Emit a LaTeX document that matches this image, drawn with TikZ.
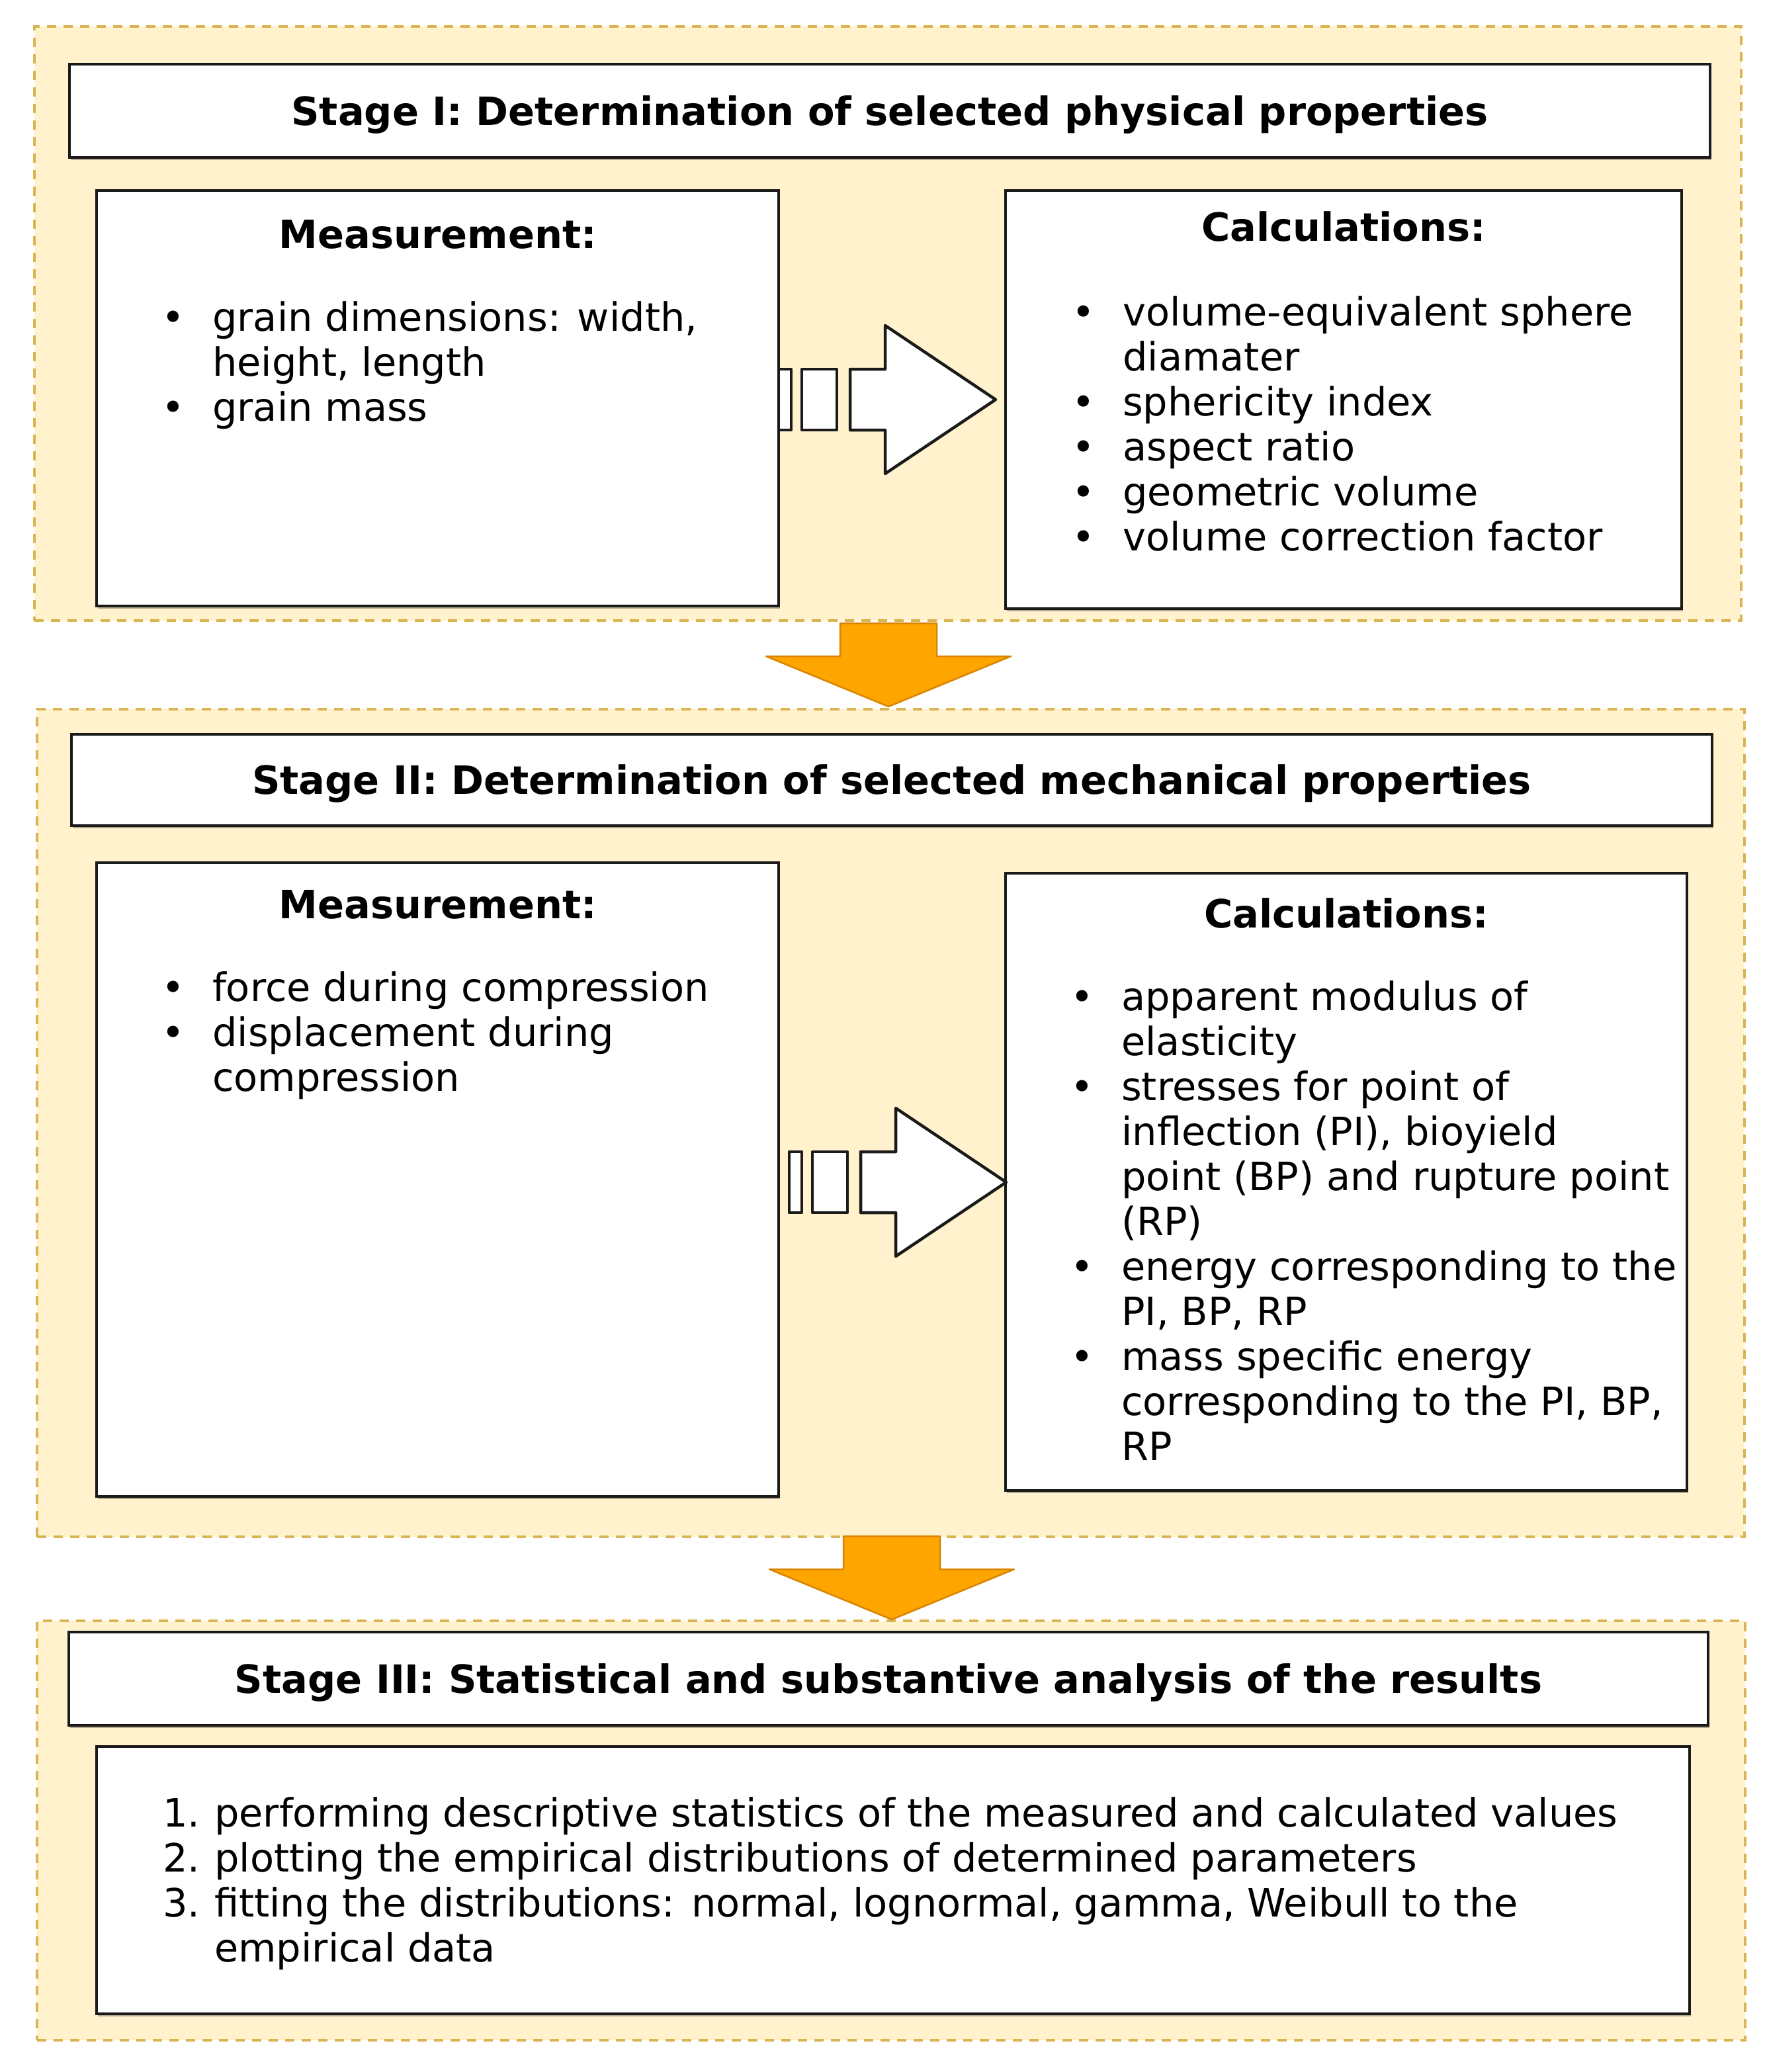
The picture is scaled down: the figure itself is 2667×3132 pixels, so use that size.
\documentclass[tikz,border=0pt]{standalone}
\usepackage{fontspec}
\setmainfont{DejaVu Sans}
\usetikzlibrary{shadows}
\definecolor{panelfill}{HTML}{FFF2CC}
\definecolor{paneldraw}{HTML}{D9B452}
\definecolor{orangefill}{HTML}{FFA500}
\definecolor{orangedraw}{HTML}{D98400}
\definecolor{boxline}{HTML}{1A1A1A}
\newcommand{\bul}{\makebox[118pt][c]{\textbullet}}
\newcommand{\ind}{\hspace*{118pt}}
\newcommand{\numb}[1]{\makebox[78pt][l]{#1}}
\tikzset{
  panel/.style={fill=panelfill, draw=paneldraw, line width=4.5pt, dash pattern=on 14pt off 11pt, anchor=north west, inner sep=0pt, outer sep=0pt},
  box/.style={draw=boxline, fill=white, line width=4pt, anchor=north west, inner sep=0pt, outer sep=0pt,
    drop shadow={shadow xshift=2pt, shadow yshift=-4pt, fill=black, opacity=0.3}},
  txt/.style={inner sep=0pt, anchor=base west},
  hdr/.style={inner sep=0pt, anchor=base, font=\fontsize{59}{68}\selectfont\bfseries},
  blockarrow/.style={fill=orangefill, draw=orangedraw, line width=2.5pt, line join=round},
  stripe/.style={fill=white, draw=boxline, line width=4.5pt, line join=round},
  striped/.pic={
    \draw[stripe] (0,-46) rectangle (19,46);
    \draw[stripe] (35,-46) rectangle (88,46);
    \draw[stripe] (108,-46) -- (161,-46) -- (161,-112) -- (328,0) -- (161,112) -- (161,46) -- (108,46) -- cycle;
  },
  downarrow/.pic={
    \draw[blockarrow] (-73,0) -- (73,0) -- (73,50) -- (185,50) -- (0,126) -- (-185,50) -- (-73,50) -- cycle;
  }
}
\begin{document}
\begin{tikzpicture}[x=1pt, y=-1pt, font=\fontsize{59}{68}\selectfont]
\useasboundingbox (0,0) rectangle (2667,3132);
\fill[white] (0,0) rectangle (2667,3132);

% panels
\node[panel, minimum width=2580pt, minimum height=898pt] (p1) at (52,40) {};
\node[panel, minimum width=2581pt, minimum height=1251pt] (p2) at (56,1072) {};
\node[panel, minimum width=2582pt, minimum height=634pt] (p3) at (56,2450) {};

% stage arrows
\coordinate (oa1) at (1343,942);
\coordinate (oa2) at (1348,2322);
\pic at (oa1) {downarrow};
\pic at (oa2) {downarrow};

% Stage I
\node[box, minimum width=2480pt, minimum height=141pt] (t1) at (105,97) {};
\node[hdr] (t1txt) at (1345,189) {Stage I: Determination of selected physical properties};
\node[box, minimum width=1031pt, minimum height=628pt] (m1) at (146,288) {};
\node[box, minimum width=1022pt, minimum height=632pt] (c1) at (1520,288) {};
\node[hdr] (m1h) at (662,375) {Measurement:};
\node[txt] (m1l) at (203,500) {\begin{tabular}[t]{@{}l@{}}
\bul grain dimensions: width,\\
\ind height, length\\
\bul grain mass
\end{tabular}};
\node[hdr] (c1h) at (2031,364) {Calculations:};
\node[txt] (c1l) at (1579,492) {\begin{tabular}[t]{@{}l@{}}
\bul volume-equivalent sphere\\
\ind diamater\\
\bul sphericity index\\
\bul aspect ratio\\
\bul geometric volume\\
\bul volume correction factor
\end{tabular}};
\coordinate (sa1) at (1177,604);
\pic at (sa1) {striped};

% Stage II
\node[box, minimum width=2480pt, minimum height=138pt] (t2) at (108,1110) {};
\node[hdr] (t2txt) at (1348,1200) {Stage II: Determination of selected mechanical properties};
\node[box, minimum width=1031pt, minimum height=958pt] (m2) at (146,1304) {};
\node[box, minimum width=1030pt, minimum height=933pt] (c2) at (1520,1320) {};
\node[hdr] (m2h) at (662,1388) {Measurement:};
\node[txt] (m2l) at (203,1513) {\begin{tabular}[t]{@{}l@{}}
\bul force during compression\\
\bul displacement during\\
\ind compression
\end{tabular}};
\node[hdr] (c2h) at (2035,1402) {Calculations:};
\node[txt] (c2l) at (1577,1527) {\begin{tabular}[t]{@{}l@{}}
\bul apparent modulus of\\
\ind elasticity\\
\bul stresses for point of\\
\ind inflection (PI), bioyield\\
\ind point (BP) and rupture point\\
\ind (RP)\\
\bul energy corresponding to the\\
\ind PI, BP, RP\\
\bul mass specific energy\\
\ind corresponding to the PI, BP,\\
\ind RP
\end{tabular}};
\coordinate (sa2) at (1193,1787);
\pic at (sa2) {striped};

% Stage III
\node[box, minimum width=2478pt, minimum height=141pt] (t3) at (104,2467) {};
\node[hdr] (t3txt) at (1343,2559) {Stage III: Statistical and substantive analysis of the results};
\node[box, minimum width=2408pt, minimum height=404pt] (r3) at (146,2640) {};
\node[txt] (r3l) at (246,2761) {\begin{tabular}[t]{@{}l@{}}
\numb{1.}performing descriptive statistics of the measured and calculated values\\
\numb{2.}plotting the empirical distributions of determined parameters\\
\numb{3.}fitting the distributions: normal, lognormal, gamma, Weibull to the\\
\numb{}empirical data
\end{tabular}};
\end{tikzpicture}
\end{document}
